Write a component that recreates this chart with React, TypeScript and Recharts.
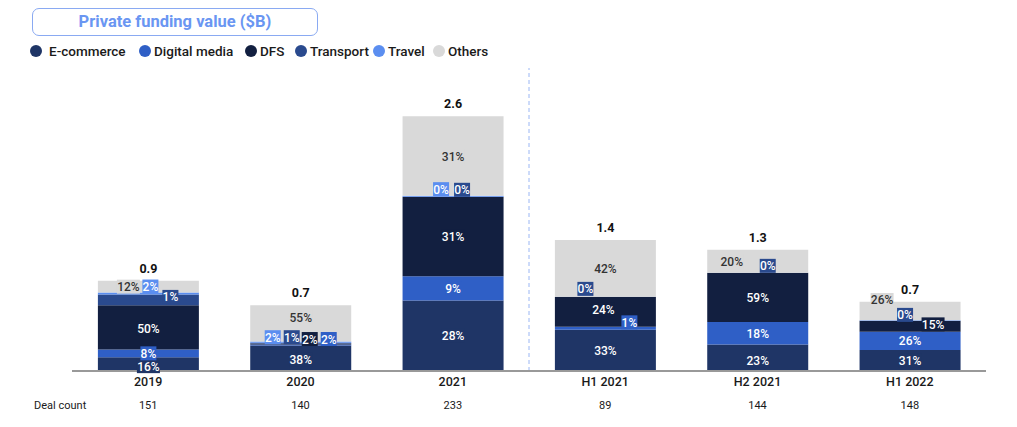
import React from "react";
import { Bar, BarChart, LabelList, ReferenceLine, XAxis, YAxis } from "recharts";

const categories = ["2019", "2020", "2021", "H1 2021", "H2 2021", "H1 2022"];
const totals = [0.9, 0.7, 2.6, 1.4, 1.3, 0.7];
const dealCounts = [151, 140, 233, 89, 144, 148];

// segment values in $B
const ecommerce = [0.14, 0.26, 0.72, 0.42, 0.27, 0.215];
const digitalMedia = [0.08, 0.01, 0.245, 0.03, 0.23, 0.185];
const dfs = [0.45, 0.01, 0.81, 0.305, 0.5, 0.11];
const transport = [0.11, 0.007, 0.003, 0.002, 0.002, 0.002];
const travel = [0.02, 0.013, 0.01, 0, 0, 0.005];
const others = [0.12, 0.37, 0.81, 0.58, 0.235, 0.19];

// shares as printed on the chart
const ecommercePct = [16, 38, 28, 33, 23, 31];
const digitalMediaPct = [8, 2, 9, 1, 18, 26];
const dfsPct = [50, 2, 31, 24, 59, 15];
const transportPct = [1, 1, 0, 0, 0, 0];
const travelPct = [2, 2, 0, null, null, null];
const othersPct = [12, 55, 31, 42, 20, 26];

const FONT = "Roboto, 'Open Sans', sans-serif";

const series = [
  { key: "ecommerce", name: "E-commerce", color: "#1f3566", text: "#fff", values: ecommerce, pct: ecommercePct },
  { key: "digitalMedia", name: "Digital media", color: "#2f5fc6", text: "#fff", values: digitalMedia, pct: digitalMediaPct },
  { key: "dfs", name: "DFS", color: "#121f40", text: "#fff", values: dfs, pct: dfsPct },
  { key: "transport", name: "Transport", color: "#2a4a8e", text: "#fff", values: transport, pct: transportPct },
  { key: "travel", name: "Travel", color: "#5b8ef0", text: "#fff", values: travel, pct: travelPct },
  { key: "others", name: "Others", color: "#d9d9d9", text: "#333", values: others, pct: othersPct },
];

// legend item x positions (dot centres)
const legendX = [36, 145, 251, 301, 379, 439];

// label nudges [dx, dy] per category, so small segments don't overlap
const nudge: Record<string, number[][]> = {
  ecommerce: [[0, 2], [0, 1], [0, 0], [0, 0], [0, 3], [0, 0]],
  digitalMedia: [[0, 0], [28, -6], [0, 0], [24, -6], [0, 0], [0, 0]],
  dfs: [[0, 1], [9, -5], [0, 0], [-2, -2], [0, 0], [23, -2]],
  transport: [[22, -3], [-9, -6], [9, -7], [-20, -8], [10, -7], [-5, -6]],
  travel: [[2, -7], [-28, -5], [-12, -7], [0, 0], [0, 0], [0, 0]],
  others: [[-20, 0], [0, -6], [0, 1], [0, 0], [-26, 0], [-28, -11]],
};

const data = categories.map((name, i) => {
  const row: Record<string, string | number> = { name };
  series.forEach((s) => (row[s.key] = s.values[i]));
  return row;
});

function segmentLabel(s: (typeof series)[number]) {
  return (props: any) => {
    const { x, y, width, height, index } = props;
    const pct = s.pct[index];
    if (pct === null || pct === undefined) return null;
    const [dx, dy] = nudge[s.key][index];
    const cx = Number(x) + Number(width) / 2 + dx;
    const cy = Number(y) + Number(height) / 2 + dy;
    const label = `${pct}%`;
    const w = label.length * 7 + 2;
    return (
      <g>
        <rect x={cx - w / 2} y={cy - 7} width={w} height={14} fill={s.color} />
        <text x={cx} y={cy + 4.5} textAnchor="middle" fill={s.text} fontSize={12} fontWeight={500} fontFamily={FONT}>
          {label}
        </text>
      </g>
    );
  };
}

function totalLabel(props: any) {
  const { x, y, width, index } = props;
  return (
    <text x={Number(x) + Number(width) / 2} y={Number(y) - 8} textAnchor="middle" fill="#111" fontSize={12.5} fontWeight={700} fontFamily={FONT}>
      {totals[index]}
    </text>
  );
}

function CategoryTick(props: any) {
  const { x, y, payload, index } = props;
  return (
    <g>
      <text x={x} y={y + 15} textAnchor="middle" fill="#1a1a1a" fontSize={12.5} fontWeight={500} fontFamily={FONT}>
        {payload.value}
      </text>
      <text x={x} y={y + 38} textAnchor="middle" fill="#1a1a1a" fontSize={11} fontFamily={FONT}>
        {dealCounts[index]}
      </text>
      {index === 0 && (
        <text x={x - 88} y={y + 38} textAnchor="middle" fill="#1a1a1a" fontSize={11} fontFamily={FONT}>
          Deal count
        </text>
      )}
    </g>
  );
}

export default function App() {
  return (
    <div style={{ position: "fixed", top: 0, left: 0, width: 1017, height: 427, background: "#fff", fontFamily: FONT }}>
      <div
        style={{
          position: "absolute",
          left: 32,
          top: 8,
          width: 284,
          height: 26,
          border: "1.5px solid #8aaaf2",
          borderRadius: 7,
          color: "#6a96f2",
          fontSize: 16.5,
          fontWeight: 700,
          textAlign: "center",
          lineHeight: "26px",
        }}
      >
        Private funding value ($B)
      </div>
      {series.map((s, i) => (
        <div
          key={s.key}
          style={{
            position: "absolute",
            left: legendX[i] - 6,
            top: 43,
            display: "flex",
            alignItems: "center",
            gap: i === 0 ? 7 : 3,
            fontSize: 13.5,
            fontWeight: 500,
            color: "#1a1a1a",
            whiteSpace: "nowrap",
          }}
        >
          <span style={{ width: 12, height: 12, borderRadius: "50%", background: s.color, display: "inline-block" }} />
          <span>{s.name}</span>
        </div>
      ))}
      <div style={{ position: "absolute", left: 0, top: 0 }}>
        <BarChart width={1017} height={427} data={data} margin={{ top: 68, right: 31, bottom: 26, left: 72 }} barCategoryGap="17%">
          <XAxis
            dataKey="name"
            height={30}
            axisLine={{ stroke: "#999", strokeWidth: 2 }}
            tickLine={false}
            tickSize={0}
            tickMargin={0}
            tick={<CategoryTick />}
            interval={0}
          />
          <YAxis hide domain={[0, 3.09]} />
          <ReferenceLine x="2021" position="end" stroke="#9ab6f4" strokeDasharray="4 3" strokeWidth={1} />
          {series.map((s) => (
            <Bar key={s.key} dataKey={s.key} name={s.name} stackId="a" fill={s.color} isAnimationActive={false}>
              <LabelList dataKey={s.key} content={segmentLabel(s)} />
              {s.key === "others" && <LabelList dataKey={s.key} content={totalLabel} />}
            </Bar>
          ))}
        </BarChart>
      </div>
    </div>
  );
}
